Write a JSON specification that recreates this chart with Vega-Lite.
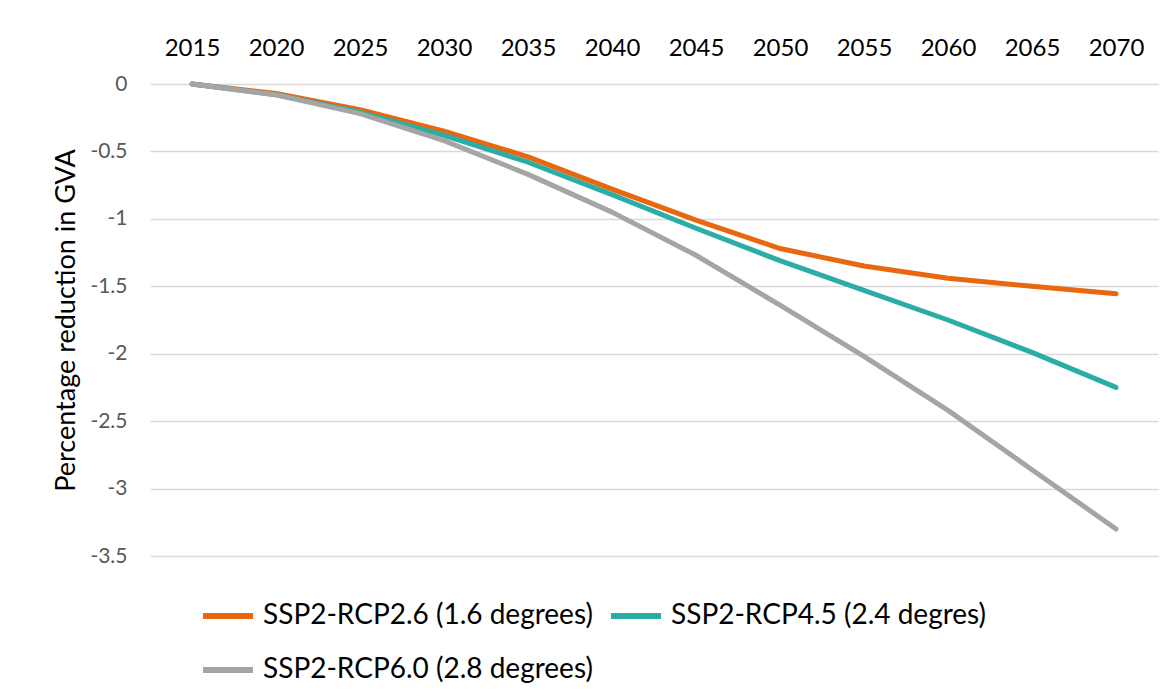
{
  "$schema": "https://vega.github.io/schema/vega-lite/v6.json",
  "width": 1008,
  "height": 472,
  "autosize": {"type": "none"},
  "padding": {"left": 150, "top": 84, "right": 15, "bottom": 142},
  "background": "white",
  "config": {"view": {"stroke": null}, "font": "Lato"},
  "data": {
    "values": [
      {"year": "2015", "scenario": "SSP2-RCP2.6 (1.6 degrees)", "value": 0},
      {"year": "2020", "scenario": "SSP2-RCP2.6 (1.6 degrees)", "value": -0.07},
      {"year": "2025", "scenario": "SSP2-RCP2.6 (1.6 degrees)", "value": -0.19},
      {"year": "2030", "scenario": "SSP2-RCP2.6 (1.6 degrees)", "value": -0.35},
      {"year": "2035", "scenario": "SSP2-RCP2.6 (1.6 degrees)", "value": -0.54},
      {"year": "2040", "scenario": "SSP2-RCP2.6 (1.6 degrees)", "value": -0.78},
      {"year": "2045", "scenario": "SSP2-RCP2.6 (1.6 degrees)", "value": -1.01},
      {"year": "2050", "scenario": "SSP2-RCP2.6 (1.6 degrees)", "value": -1.22},
      {"year": "2055", "scenario": "SSP2-RCP2.6 (1.6 degrees)", "value": -1.35},
      {"year": "2060", "scenario": "SSP2-RCP2.6 (1.6 degrees)", "value": -1.44},
      {"year": "2065", "scenario": "SSP2-RCP2.6 (1.6 degrees)", "value": -1.5},
      {"year": "2070", "scenario": "SSP2-RCP2.6 (1.6 degrees)", "value": -1.555},
      {"year": "2015", "scenario": "SSP2-RCP4.5 (2.4 degres)", "value": 0},
      {"year": "2020", "scenario": "SSP2-RCP4.5 (2.4 degres)", "value": -0.08},
      {"year": "2025", "scenario": "SSP2-RCP4.5 (2.4 degres)", "value": -0.21},
      {"year": "2030", "scenario": "SSP2-RCP4.5 (2.4 degres)", "value": -0.38},
      {"year": "2035", "scenario": "SSP2-RCP4.5 (2.4 degres)", "value": -0.58},
      {"year": "2040", "scenario": "SSP2-RCP4.5 (2.4 degres)", "value": -0.82},
      {"year": "2045", "scenario": "SSP2-RCP4.5 (2.4 degres)", "value": -1.07},
      {"year": "2050", "scenario": "SSP2-RCP4.5 (2.4 degres)", "value": -1.31},
      {"year": "2055", "scenario": "SSP2-RCP4.5 (2.4 degres)", "value": -1.53},
      {"year": "2060", "scenario": "SSP2-RCP4.5 (2.4 degres)", "value": -1.75},
      {"year": "2065", "scenario": "SSP2-RCP4.5 (2.4 degres)", "value": -1.99},
      {"year": "2070", "scenario": "SSP2-RCP4.5 (2.4 degres)", "value": -2.25},
      {"year": "2015", "scenario": "SSP2-RCP6.0 (2.8 degrees)", "value": 0},
      {"year": "2020", "scenario": "SSP2-RCP6.0 (2.8 degrees)", "value": -0.08},
      {"year": "2025", "scenario": "SSP2-RCP6.0 (2.8 degrees)", "value": -0.22},
      {"year": "2030", "scenario": "SSP2-RCP6.0 (2.8 degrees)", "value": -0.42},
      {"year": "2035", "scenario": "SSP2-RCP6.0 (2.8 degrees)", "value": -0.67},
      {"year": "2040", "scenario": "SSP2-RCP6.0 (2.8 degrees)", "value": -0.95},
      {"year": "2045", "scenario": "SSP2-RCP6.0 (2.8 degrees)", "value": -1.27},
      {"year": "2050", "scenario": "SSP2-RCP6.0 (2.8 degrees)", "value": -1.64},
      {"year": "2055", "scenario": "SSP2-RCP6.0 (2.8 degrees)", "value": -2.02},
      {"year": "2060", "scenario": "SSP2-RCP6.0 (2.8 degrees)", "value": -2.42},
      {"year": "2065", "scenario": "SSP2-RCP6.0 (2.8 degrees)", "value": -2.86},
      {"year": "2070", "scenario": "SSP2-RCP6.0 (2.8 degrees)", "value": -3.3}
    ]
  },
  "mark": {"type": "line", "strokeWidth": 5, "strokeCap": "round", "strokeJoin": "round"},
  "encoding": {
    "x": {
      "field": "year",
      "type": "ordinal",
      "scale": {"type": "point", "padding": 0.5},
      "axis": {
        "orient": "top",
        "title": null,
        "domain": false,
        "ticks": false,
        "labelAngle": 0,
        "labelFontSize": 24,
        "labelColor": "#000000",
        "labelBaseline": "alphabetic",
        "labelPadding": 29,
        "grid": false
      }
    },
    "y": {
      "field": "value",
      "type": "quantitative",
      "scale": {"domain": [-3.5, 0], "nice": false, "zero": false},
      "axis": {
        "values": [0, -0.5, -1, -1.5, -2, -2.5, -3, -3.5],
        "labelExpr": "'' + datum.value",
        "title": "Percentage reduction in GVA",
        "titleFontSize": 27,
        "titleFontWeight": "normal",
        "titleColor": "#000000",
        "titleAngle": -90,
        "titleX": -76,
        "titleY": 236,
        "titleAlign": "center",
        "titleBaseline": "alphabetic",
        "domain": false,
        "ticks": false,
        "labelFontSize": 21,
        "labelColor": "#595959",
        "labelPadding": 23,
        "gridColor": "#d9d9d9",
        "gridWidth": 1.5
      }
    },
    "color": {
      "field": "scenario",
      "type": "nominal",
      "scale": {
        "domain": ["SSP2-RCP2.6 (1.6 degrees)", "SSP2-RCP4.5 (2.4 degres)", "SSP2-RCP6.0 (2.8 degrees)"],
        "range": ["#E8670F", "#2BADA5", "#A5A5A5"]
      },
      "legend": {
        "orient": "none",
        "legendX": 50,
        "legendY": 504,
        "direction": "horizontal",
        "columns": 2,
        "title": null,
        "symbolType": "stroke",
        "symbolSize": 2500,
        "symbolStrokeWidth": 6,
        "labelFont": "Lato",
        "labelFontSize": 28,
        "labelColor": "#000000",
        "labelOffset": 7,
        "columnPadding": 6,
        "rowPadding": 12,
        "labelLimit": 500
      }
    }
  }
}
